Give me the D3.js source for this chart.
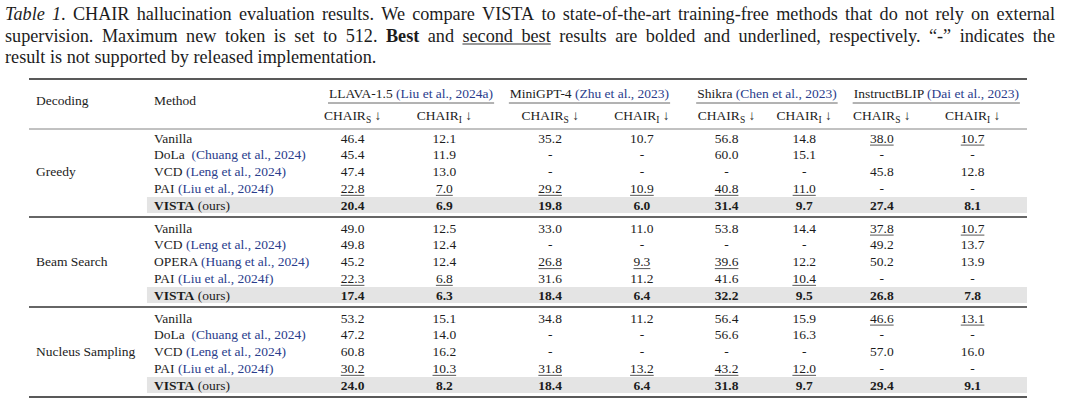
<!DOCTYPE html>
<html><head><meta charset="utf-8">
<script src="https://cdn.jsdelivr.net/npm/d3@7"></script>
<style>
body{margin:0;background:#fff}
svg{display:block;font-family:"Liberation Serif","Times New Roman",Times,serif}
</style>
</head><body>
<svg id="c" width="1080" height="408"></svg>
<script>
// ---------- data ----------
const decodings = ["Greedy", "Beam Search", "Nucleus Sampling"];
const greedyMethods = ["Vanilla", "DoLa", "VCD", "PAI", "VISTA"];
const beamMethods = ["Vanilla", "VCD", "OPERA", "PAI", "VISTA"];
const nucleusMethods = ["Vanilla", "DoLa", "VCD", "PAI", "VISTA"];
const methodCites = ["(Chuang et al., 2024)", "(Leng et al., 2024)", "(Liu et al., 2024f)", "(Huang et al., 2024)", "(ours)"];
const citedMethods = ["DoLa", "VCD", "PAI", "OPERA", "VISTA"];
const models = ["LLAVA-1.5", "MiniGPT-4", "Shikra", "InstructBLIP"];
const modelCites = ["(Liu et al., 2024a)", "(Zhu et al., 2023)", "(Chen et al., 2023)", "(Dai et al., 2023)"];
const metrics = ["S", "I"];
// values per row: LLAVA S, LLAVA I, MiniGPT S, MiniGPT I, Shikra S, Shikra I, InstructBLIP S, InstructBLIP I (null = "-")
const greedyValues = [
  [46.4, 12.1, 35.2, 10.7, 56.8, 14.8, 38.0, 10.7],
  [45.4, 11.9, null, null, 60.0, 15.1, null, null],
  [47.4, 13.0, null, null, null, null, 45.8, 12.8],
  [22.8, 7.0, 29.2, 10.9, 40.8, 11.0, null, null],
  [20.4, 6.9, 19.8, 6.0, 31.4, 9.7, 27.4, 8.1]
];
const beamValues = [
  [49.0, 12.5, 33.0, 11.0, 53.8, 14.4, 37.8, 10.7],
  [49.8, 12.4, null, null, null, null, 49.2, 13.7],
  [45.2, 12.4, 26.8, 9.3, 39.6, 12.2, 50.2, 13.9],
  [22.3, 6.8, 31.6, 11.2, 41.6, 10.4, null, null],
  [17.4, 6.3, 18.4, 6.4, 32.2, 9.5, 26.8, 7.8]
];
const nucleusValues = [
  [53.2, 15.1, 34.8, 11.2, 56.4, 15.9, 46.6, 13.1],
  [47.2, 14.0, null, null, 56.6, 16.3, null, null],
  [60.8, 16.2, null, null, null, null, 57.0, 16.0],
  [30.2, 10.3, 31.8, 13.2, 43.2, 12.0, null, null],
  [24.0, 8.2, 18.4, 6.4, 31.8, 9.7, 29.4, 9.1]
];
// row index of the underlined (second best) entry in each column
const greedySecond = [3, 3, 3, 3, 3, 3, 0, 0];
const beamSecond = [3, 3, 2, 2, 2, 3, 0, 0];
const nucleusSecond = [3, 3, 3, 3, 3, 3, 0, 0];
const bestRow = 4;

const captionLine1 = "Table 1. CHAIR hallucination evaluation results. We compare VISTA to state-of-the-art training-free methods that do not rely on external";
const captionLine2 = "supervision. Maximum new token is set to 512. Best and second best results are bolded and underlined, respectively. “-” indicates the";
const captionLine3 = "result is not supported by released implementation.";

// ---------- drawing ----------
const svg = d3.select("#c");
const INK = "#1c1c1c", CITE = "#2a3d8c";
const FS = 13.5;

const blocks = decodings.map((d, i) => ({
  name: d,
  methods: [greedyMethods, beamMethods, nucleusMethods][i],
  values: [greedyValues, beamValues, nucleusValues][i],
  second: [greedySecond, beamSecond, nucleusSecond][i]
}));

// horizontal layout: a linear page scale (table-relative units -> pixels)
const px = d3.scaleLinear().domain([29, 1019]).range([29, 1027]);
const colKeys = d3.cross(models, metrics).map(([m, k]) => m + "|" + k);
const xCol = d3.scaleOrdinal().domain(colKeys).range([350, 441, 546, 637, 721, 798, 875, 965].map(px));
const xGroup = d3.scaleOrdinal().domain(models).range([408, 585, 761, 929].map(px));
const groupY = d3.scalePoint().domain(decodings).range([138, 318]);
const rowY = d3.scaleLinear().domain([0, 4]).range([0, 67]);
const tableX = d3.scaleLinear().domain([0, 1]).range([px(29), px(1019)]);
const xDec = 36, xMethod = 154, bandX0 = px(146);
const capL = 5, capR = 1055;
const fmt = d3.format(".1f");

// caption with justification
function captionTokens(str) {
  return str.split(" ").map(w => {
    if (w === "Table") return [{t: "Table", s: "i"}];
    if (w === "1.") return [{t: "1", s: "i"}, {t: ".", s: "n"}];
    if (w === "Best") return [{t: "Best", s: "b"}];
    if (w === "second" || w === "best") return [{t: w, s: "u"}];
    return [{t: w, s: "n"}];
  });
}
function drawCaption(str, y, justify) {
  const toks = captionTokens(str);
  const g = svg.append("g");
  const els = toks.map(runs => {
    const t = g.append("text").attr("y", y).attr("font-size", 18.2).attr("fill", INK);
    runs.forEach(r => {
      t.append("tspan").text(r.t)
        .attr("font-style", r.s === "i" ? "italic" : null)
        .attr("font-weight", r.s === "b" ? "bold" : null);
    });
    return {t, runs, w: t.node().getComputedTextLength()};
  });
  const total = d3.sum(els, e => e.w);
  const spaceW = 18.2 * 0.25;
  const gap = justify ? (capR - capL - total) / (els.length - 1) : spaceW;
  let x = capL;
  const uPos = [];
  els.forEach(e => {
    e.t.attr("x", x);
    if (e.runs[0].s === "u") uPos.push([x, x + e.w]);
    x += e.w + gap;
  });
  if (uPos.length) {
    g.append("line").attr("x1", uPos[0][0]).attr("x2", uPos[uPos.length - 1][1])
      .attr("y1", y + 2.5).attr("y2", y + 2.5).attr("stroke", INK).attr("stroke-width", 0.9);
  }
}
drawCaption(captionLine1, 20, true);
drawCaption(captionLine2, 41.5, true);
drawCaption(captionLine3, 63, false);

// rules
function hrule(y, x1, x2, w, c) {
  svg.append("line").attr("x1", x1).attr("x2", x2).attr("y1", y).attr("y2", y)
    .attr("stroke", c).attr("stroke-width", w);
}
hrule(79, tableX(0), tableX(1), 1.4, "#222");
hrule(129, tableX(0), tableX(1), 0.9, "#777");
blocks.slice(1).forEach(b => hrule(groupY(b.name) - 11, tableX(0), tableX(1), 1.6, "#333"));
hrule(groupY(decodings[2]) + rowY(4) + 12, tableX(0), tableX(1), 1.5, "#222");

// header
const head = svg.append("g").attr("font-size", FS).attr("fill", INK);
head.append("text").attr("x", xDec).attr("y", 105).text("Decoding");
head.append("text").attr("x", xMethod).attr("y", 105).text("Method");
models.forEach((m, i) => {
  const cx = xGroup(m);
  const t = head.append("text").attr("x", cx).attr("y", 98).attr("text-anchor", "middle");
  t.append("tspan").text(m + " ");
  t.append("tspan").attr("fill", CITE).text(modelCites[i]);
  const w = t.node().getComputedTextLength();
  hrule(103, cx - w / 2 - 1, cx + w / 2 + 1, 0.9, "#555");
  metrics.forEach(k => {
    const s = head.append("text").attr("x", xCol(m + "|" + k)).attr("y", 120).attr("text-anchor", "middle");
    s.append("tspan").text("CHAIR");
    s.append("tspan").attr("font-size", 9.5).attr("dy", 2.5).text(k);
    s.append("tspan").attr("dy", -2.5).text(" ↓");
  });
});

// body
blocks.forEach(b => {
  const y0 = groupY(b.name);
  // highlight band for best row
  svg.append("rect").attr("x", bandX0).attr("width", tableX(1) - bandX0)
    .attr("y", y0 + rowY(bestRow) - 8).attr("height", 16).attr("fill", "#e4e4e4");
  const g = svg.append("g").attr("font-size", FS).attr("fill", INK);
  g.append("text").attr("x", xDec).attr("y", y0 + rowY(2) + 4.5).text(b.name);
  b.methods.forEach((m, r) => {
    const yb = y0 + rowY(r) + 4.5;
    const t = g.append("text").attr("x", xMethod).attr("y", yb);
    t.append("tspan").attr("font-weight", r === bestRow ? "bold" : null).text(m);
    const ci = citedMethods.indexOf(m);
    if (ci >= 0) {
      t.append("tspan").attr("dx", m === "DoLa" ? 3.4 : 0)
        .attr("fill", m === "VISTA" ? INK : CITE).text(" " + methodCites[ci]);
    }
    b.values[r].forEach((v, c) => {
      const x = xCol(colKeys[c]);
      const nt = g.append("text").attr("x", x).attr("y", yb).attr("text-anchor", "middle")
        .attr("font-weight", r === bestRow ? "bold" : null)
        .text(v === null ? "-" : fmt(v));
      if (b.second[c] === r && v !== null) {
        const w = nt.node().getComputedTextLength();
        hrule(yb + 2.6, x - w / 2, x + w / 2, 0.9, "#444");
      }
    });
  });
});
</script>
</body></html>
